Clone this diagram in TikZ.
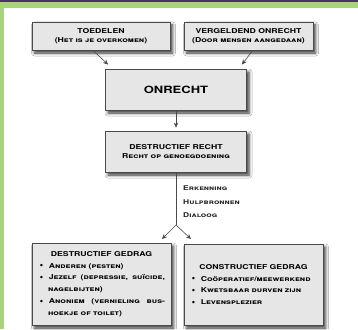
\documentclass[tikz,border=0pt]{standalone}
\usepackage{fontspec}
\usetikzlibrary{arrows.meta,shadows.blur}
\newfontfamily\cpfont[FakeStretch=1.3]{TeX Gyre Heros}
\definecolor{bandpurple}{HTML}{46306C}
\definecolor{bandgreen}{HTML}{A9D27C}
\definecolor{boxfill}{HTML}{E6E6E6}
\definecolor{boxline}{HTML}{4A4A4A}
\newcommand{\bigdot}{\raisebox{0.3pt}{\normalfont\fontsize{8.5}{8.5}\selectfont\textbullet}}
\begin{document}
\begin{tikzpicture}[x=1pt,y=-1pt,
  box/.style={draw=boxline, line width=0.8pt, fill=boxfill, inner sep=0pt,
    blur shadow={shadow xshift=2.5pt, shadow yshift=-3pt, shadow blur radius=3pt, shadow opacity=80},
    font=\cpfont\bfseries\fontsize{6.7}{9.5}\selectfont, align=center},
  conn/.style={draw=boxline, line width=0.6pt},
  arr/.style={conn, -{Stealth[length=5pt,width=4.5pt]}},
  lbl/.style={font=\cpfont\bfseries\fontsize{6.5}{13.5}\selectfont, align=left, inner sep=0pt, text=black!85}
]
\useasboundingbox (0,0) rectangle (358,329);
\fill[white] (0,0) rectangle (358,329);
\fill[bandgreen] (0,0) rectangle (358,8);
\fill[bandgreen] (0,0) rectangle (4,329);
\fill[bandpurple] (0,0) rectangle (358,2);

\node[box, minimum width=138pt, minimum height=28pt] (toe) at (101,36)
  {TOEDELEN\\{\scshape (Het is je overkomen)}};
\node[box, minimum width=129pt, minimum height=28pt] (verg) at (248.5,36)
  {VERGELDEND ONRECHT\\{\scshape (Door mensen aangedaan)}};
\node[box, minimum width=141pt, minimum height=41pt, font=\cpfont\bfseries\fontsize{10}{12}\selectfont] (onr) at (176,89.5)
  {ONRECHT};
\node[box, minimum width=141pt, minimum height=41pt] (drecht) at (176,151.5)
  {DESTRUCTIEF RECHT\\{\scshape Recht op genoegdoening}};

\node[box, minimum width=139pt, minimum height=82pt, text width=127pt, align=justify,
  font=\cpfont\bfseries\fontsize{6.7}{11.8}\selectfont] (dg) at (101.5,284)
  {\centering DESTRUCTIEF GEDRAG\par\scshape
   \begin{list}{\bigdot}{\leftmargin=10pt\labelwidth=6pt\labelsep=4pt\itemsep=0pt\topsep=0pt\parsep=0pt\partopsep=0pt}
   \item Anderen (pesten)
   \item Jezelf (depressie, suïcide, nagelbijten)
   \item Anoniem (vernieling bus\-hoekje of toilet)
   \end{list}};
\node[box, minimum width=139pt, minimum height=81pt, text width=127pt, align=left,
  font=\cpfont\bfseries\fontsize{6.7}{11.8}\selectfont] (cg) at (253.5,284.5)
  {\centering CONSTRUCTIEF GEDRAG\par\scshape
   \begin{list}{\bigdot}{\leftmargin=10pt\labelwidth=6pt\labelsep=4pt\itemsep=0pt\topsep=0pt\parsep=0pt\partopsep=0pt}
   \item Coöperatief/meewerkend
   \item Kwetsbaar durven zijn
   \item Levensplezier
   \end{list}};

\coordinate (split) at (176,225);
\coordinate (endl) at (162,239);
\coordinate (endr) at (191,239);

\draw[arr] ([xshift=-8pt]toe.south) -- ([xshift=3pt,yshift=4pt]onr.north west);
\draw[arr] ([xshift=69pt]verg.south west) -- ([xshift=-5pt,yshift=4pt]onr.north east);
\draw[arr] (onr.south) -- ([yshift=3pt]drecht.north);
\draw[conn] (drecht.south) -- (split);
\draw[arr] (split) -- (endl);
\draw[arr] (split) -- (endr);

\node[lbl, anchor=north west] (lab) at (183,186) {\scshape Erkenning\\\scshape Hulpbronnen\\\scshape Dialoog};
\end{tikzpicture}
\end{document}
